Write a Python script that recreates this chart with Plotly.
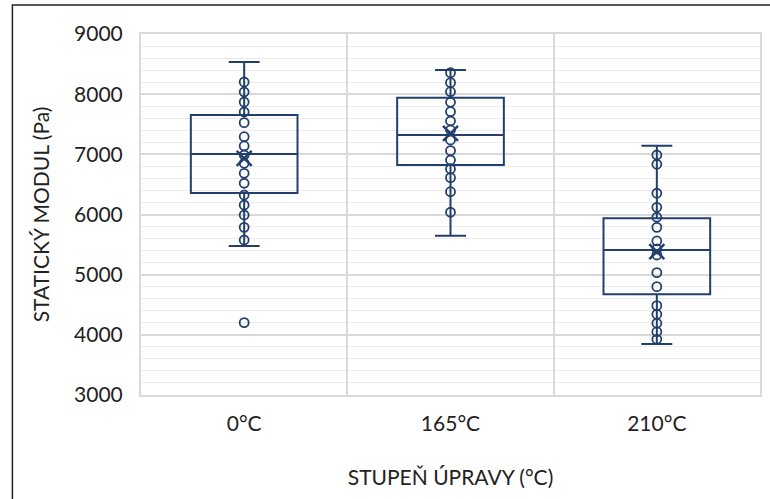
import plotly.graph_objects as go

# ---- data ----
categories = ["0°C", "165°C", "210°C"]

points_0 = [8202, 8036, 7870, 7704, 7526, 7293, 7139, 6989, 6851, 6685,
            6519, 6324, 6158, 5992, 5787, 5576, 4202]
points_165 = [8357, 8191, 8041, 7865, 7709, 7554, 7405, 7238, 7061, 6906,
              6756, 6612, 6379, 6037]
points_210 = [6989, 6835, 6353, 6120, 5954, 5787, 5560, 5427, 5327, 5033,
              4801, 4485, 4342, 4192, 4052, 3926]

q1_vals = [6357, 6823, 4674]
median_vals = [7006, 7321, 5410]
q3_vals = [7654, 7941, 5937]
lower_vals = [5477, 5648, 3848]
upper_vals = [8535, 8402, 7144]
mean_vals = [6934, 7350, 5382]

y_ticks = [3000, 4000, 5000, 6000, 7000, 8000, 9000]

# ---- styling ----
NAVY = "#223f6e"
GRID = "#d9d9d9"
MINOR = "#ececec"
FONT = "Lato"

W, H = 770, 499
ML, MR, MT, MB = 141, 8, 34, 104

fig = go.Figure()

fig.add_trace(go.Box(
    x=categories,
    q1=q1_vals, median=median_vals, q3=q3_vals,
    lowerfence=lower_vals, upperfence=upper_vals,
    fillcolor="rgba(255,255,255,0)",
    line=dict(color=NAVY, width=2),
    whiskerwidth=0.29,
    boxpoints=False,
    showlegend=False,
    hoverinfo="skip",
))

all_points = [points_0, points_165, points_210]
px, py = [], []
for cat, pts in zip(categories, all_points):
    px += [cat] * len(pts)
    py += pts

fig.add_trace(go.Scatter(
    x=px, y=py, mode="markers",
    marker=dict(symbol="circle-open", size=9, color=NAVY,
                line=dict(color=NAVY, width=1.8)),
    showlegend=False, hoverinfo="skip",
))

fig.add_trace(go.Scatter(
    x=categories, y=mean_vals, mode="markers",
    marker=dict(symbol="x-thin-open", size=15, color=NAVY,
                line=dict(color=NAVY, width=2.5)),
    showlegend=False, hoverinfo="skip",
))

# outer frame (top & left edges visible in the reference)
pw = W - ML - MR
ph = H - MT - MB
fig.add_shape(
    type="rect", xref="paper", yref="paper",
    x0=(12 - ML) / pw, x1=(W + 30 - ML) / pw,
    y0=-(H + 30 - MT - ph) / ph, y1=(H - MB - 5) / ph,
    line=dict(color="#222222", width=1.5), fillcolor="rgba(0,0,0,0)",
    layer="below",
)

fig.update_layout(
    width=W, height=H,
    margin=dict(l=ML, r=MR, t=MT, b=MB),
    paper_bgcolor="white", plot_bgcolor="white",
    font=dict(family=FONT, size=21, color="#222222"),
    boxgap=0.483, boxgroupgap=0,
    xaxis=dict(
        type="category",
        categoryorder="array", categoryarray=categories,
        tickson="boundaries",
        showgrid=True, gridcolor=GRID, gridwidth=2,
        showline=True, linecolor=GRID, linewidth=2, mirror=True,
        ticks="", ticklabelstandoff=9,
        title=dict(text="STUPEŇ ÚPRAVY (°C)", standoff=36,
                   font=dict(family=FONT, size=21)),
        tickfont=dict(family=FONT, size=21),
    ),
    yaxis=dict(
        range=[3000, 9000],
        tickvals=y_ticks, ticktext=[str(v) for v in y_ticks],
        showgrid=True, gridcolor=GRID, gridwidth=2,
        minor=dict(dtick=200, showgrid=True, gridcolor=MINOR, gridwidth=1),
        showline=True, linecolor=GRID, linewidth=2, mirror=True,
        zeroline=False,
        ticks="", ticklabelstandoff=12,
        title=dict(text="STATICKÝ MODUL (Pa)", standoff=19,
                   font=dict(family=FONT, size=21)),
        tickfont=dict(family=FONT, size=21),
    ),
)

fig.write_html("out.html")
